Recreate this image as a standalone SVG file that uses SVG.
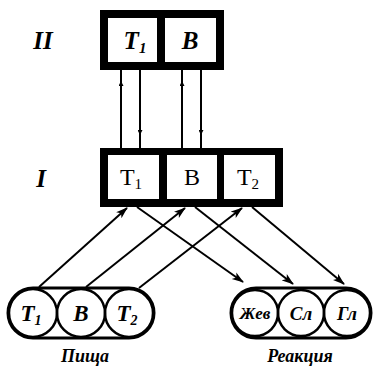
<svg xmlns="http://www.w3.org/2000/svg" width="373" height="366" viewBox="0 0 373 366">
<style>
.frame{fill:#000}
.cell{fill:#fff}
text{font-family:'Liberation Serif','DejaVu Serif',serif;fill:#000;text-anchor:middle}
.it{font-style:italic;font-weight:bold}
.cap{fill:none;stroke:#000;stroke-width:3}
.circ{fill:none;stroke:#000;stroke-width:2.5}
.ln{fill:none;stroke:#000;stroke-width:2}
</style>
<defs>
<marker id="ah" markerUnits="userSpaceOnUse" markerWidth="12" markerHeight="10" refX="11" refY="4" orient="auto" viewBox="0 0 12 8">
<path d="M0,0 L12,4 L0,8 L3,4 Z" fill="#000"/>
</marker>
<marker id="sm" markerUnits="userSpaceOnUse" markerWidth="5" markerHeight="5" refX="4" refY="2.5" orient="auto" viewBox="0 0 5 5">
<path d="M0,0 L5,2.5 L0,5 Z" fill="#000"/>
</marker>
</defs>
<rect width="373" height="366" fill="#fff"/>

<text class="it" x="43" y="49" font-size="25" font-family="Liberation Serif, serif">II</text>
<text class="it" x="41" y="187" font-size="25" font-family="Liberation Serif, serif">I</text>

<g id="levelII">
<rect class="frame" x="100" y="10" width="124" height="60"/>
<rect class="cell" x="108" y="18" width="49" height="44"/>
<rect class="cell" x="165" y="18" width="51" height="44"/>
<text class="it" x="135" y="49" font-size="25" font-family="Liberation Serif, serif">T<tspan font-size="15" dy="4">1</tspan></text>
<text class="it" x="190" y="49" font-size="25" font-family="Liberation Serif, serif">B</text>
</g>

<g id="levelI">
<rect class="frame" x="100" y="148" width="183" height="59"/>
<rect class="cell" x="108" y="155" width="51" height="44"/>
<rect class="cell" x="167" y="155" width="50" height="44"/>
<rect class="cell" x="224" y="155" width="51" height="44"/>
<text x="131" y="185" font-size="24" font-family="Liberation Serif, serif">T<tspan font-size="15" dy="4">1</tspan></text>
<text x="192" y="185" font-size="24" font-family="Liberation Serif, serif">B</text>
<text x="248" y="185" font-size="24" font-family="Liberation Serif, serif">T<tspan font-size="15" dy="4">2</tspan></text>
</g>

<g id="food">
<rect class="cap" x="8" y="288" width="146" height="50" rx="25"/>
<circle class="circ" cx="33" cy="313" r="24"/>
<circle class="circ" cx="81" cy="313" r="24"/>
<circle class="circ" cx="129" cy="313" r="24"/>
<text class="it" x="31" y="321" font-size="23" font-family="Liberation Serif, serif">T<tspan font-size="14" dy="4">1</tspan></text>
<text class="it" x="81" y="321" font-size="23" font-family="Liberation Serif, serif">B</text>
<text class="it" x="127" y="321" font-size="23" font-family="Liberation Serif, serif">T<tspan font-size="14" dy="4">2</tspan></text>
<text class="it" x="85" y="362" font-size="18" font-family="Liberation Serif, serif">Пища</text>
</g>

<g id="reaction">
<rect class="cap" x="231" y="288" width="140" height="50" rx="25"/>
<circle class="circ" cx="255" cy="313" r="23"/>
<circle class="circ" cx="301" cy="313" r="23"/>
<circle class="circ" cx="347" cy="313" r="23"/>
<text class="it" x="255" y="319" font-size="17" font-family="Liberation Serif, serif">Жев</text>
<text class="it" x="301" y="320" font-size="19" font-family="Liberation Serif, serif">Сл</text>
<text class="it" x="347" y="320" font-size="19" font-family="Liberation Serif, serif">Гл</text>
<text class="it" x="300" y="362" font-size="18" font-family="Liberation Serif, serif">Реакция</text>
</g>

<g id="connectors">
<path class="ln" d="M121,148 L121,82 L121,70" marker-mid="url(#sm)"/>
<path class="ln" d="M140,70 L140,134 L140,148" marker-mid="url(#sm)"/>
<path class="ln" d="M182,148 L182,82 L182,70" marker-mid="url(#sm)"/>
<path class="ln" d="M201,70 L201,134 L201,148" marker-mid="url(#sm)"/>
<line class="ln" x1="39" y1="287" x2="127" y2="208" marker-end="url(#ah)"/>
<line class="ln" x1="86" y1="287" x2="185" y2="208" marker-end="url(#ah)"/>
<line class="ln" x1="139" y1="288" x2="242" y2="208" marker-end="url(#ah)"/>
<line class="ln" x1="137" y1="207" x2="243" y2="282" marker-end="url(#ah)"/>
<line class="ln" x1="195" y1="207" x2="293" y2="284" marker-end="url(#ah)"/>
<line class="ln" x1="252" y1="207" x2="344" y2="284" marker-end="url(#ah)"/>
</g>
</svg>
